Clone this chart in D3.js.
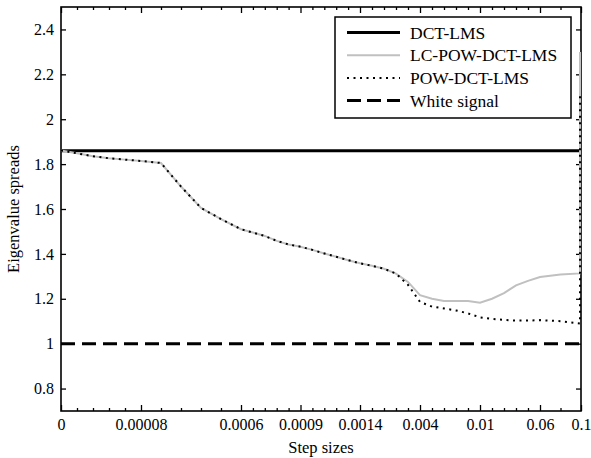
<!DOCTYPE html>
<html>
<head>
<meta charset="utf-8">
<script src="https://cdn.jsdelivr.net/npm/d3@7"></script>
</head>
<body style="margin:0">
<svg id="chart" width="591" height="458"></svg>
<script>
// ---------- data ----------
const stepIndex = [0,1,2,3,4,5,6,7,8,9,10,11,12,13,14,15,16,17,18,19,20,21,22,23,24,25,26,27,28,29,30,31,32,33,34,35,36,37,37];
const majorTickIndex = [0,5,10,15,20,25,30,35,37];
const majorTickLabels = ["0","0.00008","0.0006","0.0009","0.0014","0.004","0.01","0.06","0.1"];
const yTicks = [0.8,1,1.2,1.4,1.6,1.8,2,2.2,2.4];

const dctLms = 1.86;
const whiteSignal = 1.0;
const lcPowDctLms = [1.861,1.848,1.835,1.826,1.820,1.814,1.805,1.70,1.605,1.555,1.51,1.495,1.48,1.458,1.442,1.432,1.418,1.402,1.387,1.372,1.358,1.347,1.334,1.312,1.275,1.216,1.20,1.19,1.19,1.19,1.182,1.20,1.225,1.26,1.28,1.297,1.308,1.313,2.30];
const powDctLms   = [1.861,1.848,1.835,1.826,1.820,1.814,1.805,1.70,1.605,1.555,1.51,1.495,1.48,1.458,1.442,1.432,1.418,1.402,1.387,1.372,1.358,1.347,1.334,1.312,1.262,1.186,1.165,1.157,1.148,1.135,1.117,1.11,1.106,1.103,1.103,1.105,1.10,1.09,2.11];

const legendNames = ["DCT-LMS","LC-POW-DCT-LMS","POW-DCT-LMS","White signal"];

// ---------- layout ----------
const FONT = "'Liberation Serif'";
const M = {left: 61, top: 7, right: 10, bottom: 47};
const W = 591 - M.left - M.right;   // 520
const H = 458 - M.top - M.bottom;   // 404
const majorFrac = [0, 80, 180, 239.5, 299, 359, 419, 479, 520].map(v => v / 520);

const svg = d3.select("#chart");
const g = svg.append("g").attr("transform", `translate(${M.left},${M.top})`);

const x = d3.scaleLinear().domain(majorTickIndex).range(majorFrac.map(f => f * W));
const y = d3.scaleLinear().domain([0.7, 2.5]).range([H, 0]);

const allIdx = d3.range(0, 38);
const minorIdx = allIdx.filter(i => !majorTickIndex.includes(i));

g.append("defs").append("clipPath").attr("id", "clip")
  .append("rect").attr("x", -2).attr("y", 0).attr("width", W + 4).attr("height", H);

// ---------- axes ----------
function styleAxis(sel) {
  sel.attr("font-family", null).attr("font-size", null);
  sel.selectAll("path.domain").remove();
  sel.selectAll("line").attr("stroke", "#000").attr("stroke-width", 1.3);
  sel.selectAll("text").style("font-family", FONT).style("font-size", "16px").attr("fill", "#000");
}
const fmtMajor = (d) => majorTickLabels[majorTickIndex.indexOf(d)];

g.append("g").attr("transform", `translate(0,${H})`)
  .call(d3.axisBottom(x).tickValues(minorIdx).tickSize(-3).tickFormat(""))
  .call(styleAxis);
g.append("g").attr("transform", `translate(0,${H})`)
  .call(d3.axisBottom(x).tickValues(majorTickIndex).tickSize(-6).tickPadding(8).tickFormat(fmtMajor))
  .call(styleAxis);
g.append("g")
  .call(d3.axisTop(x).tickValues(minorIdx).tickSize(-3).tickFormat(""))
  .call(styleAxis);
g.append("g")
  .call(d3.axisTop(x).tickValues(majorTickIndex).tickSize(-6).tickFormat(""))
  .call(styleAxis);
g.append("g")
  .call(d3.axisLeft(y).tickValues(yTicks).tickSize(-5).tickPadding(7).tickFormat(d3.format("")))
  .call(styleAxis);
g.append("g").attr("transform", `translate(${W},0)`)
  .call(d3.axisRight(y).tickValues(yTicks).tickSize(-5).tickFormat(""))
  .call(styleAxis);

// frame
g.append("rect").attr("x", 0).attr("y", 0).attr("width", W).attr("height", H)
  .attr("fill", "none").attr("stroke", "#000").attr("stroke-width", 1.6);

// ---------- lines ----------
const lines = g.append("g").attr("clip-path", "url(#clip)");
const line = d3.line().x((d, i) => x(stepIndex[i]) - (i >= 37 ? 1 : 0)).y(d => y(d));

lines.append("line")
  .attr("x1", x(0)).attr("x2", x(37)).attr("y1", y(whiteSignal)).attr("y2", y(whiteSignal))
  .attr("stroke", "#000").attr("stroke-width", 3).attr("stroke-dasharray", "14,7");
lines.append("line")
  .attr("x1", x(0)).attr("x2", x(37)).attr("y1", y(dctLms)).attr("y2", y(dctLms))
  .attr("stroke", "#000").attr("stroke-width", 3);
lines.append("path").datum(lcPowDctLms).attr("d", line)
  .attr("fill", "none").attr("stroke", "#c0c0c0").attr("stroke-width", 2);
lines.append("path").datum(powDctLms).attr("d", line)
  .attr("fill", "none").attr("stroke", "#000").attr("stroke-width", 2)
  .attr("stroke-dasharray", "2,4.5");

// axis titles
svg.append("text").attr("x", M.left + W / 2).attr("y", 453)
  .attr("text-anchor", "middle").style("font-family", FONT).style("font-size", "16.5px").text("Step sizes");
svg.append("text")
  .attr("transform", `translate(19,${M.top + H / 2}) rotate(-90)`)
  .attr("text-anchor", "middle").style("font-family", FONT).style("font-size", "16.5px").text("Eigenvalue spreads");

// ---------- legend ----------
const lg = svg.append("g").attr("transform", "translate(335,17)");
lg.append("rect").attr("width", 236).attr("height", 101)
  .attr("fill", "#fff").attr("stroke", "#000").attr("stroke-width", 1.5);
const legStyles = [
  {stroke: "#000", w: 3, dash: null},
  {stroke: "#c0c0c0", w: 2, dash: null},
  {stroke: "#000", w: 2, dash: "2,4.5"},
  {stroke: "#000", w: 3, dash: "14,6"}
];
legendNames.forEach((name, i) => {
  const cy = 15.5 + i * 22.7;
  lg.append("line").attr("x1", 12).attr("x2", 65).attr("y1", cy).attr("y2", cy)
    .attr("stroke", legStyles[i].stroke).attr("stroke-width", legStyles[i].w)
    .attr("stroke-dasharray", legStyles[i].dash);
  lg.append("text").attr("x", 75).attr("y", cy).attr("dy", "0.35em")
    .style("font-family", FONT).style("font-size", "17.5px").text(name);
});
</script>
</body>
</html>
